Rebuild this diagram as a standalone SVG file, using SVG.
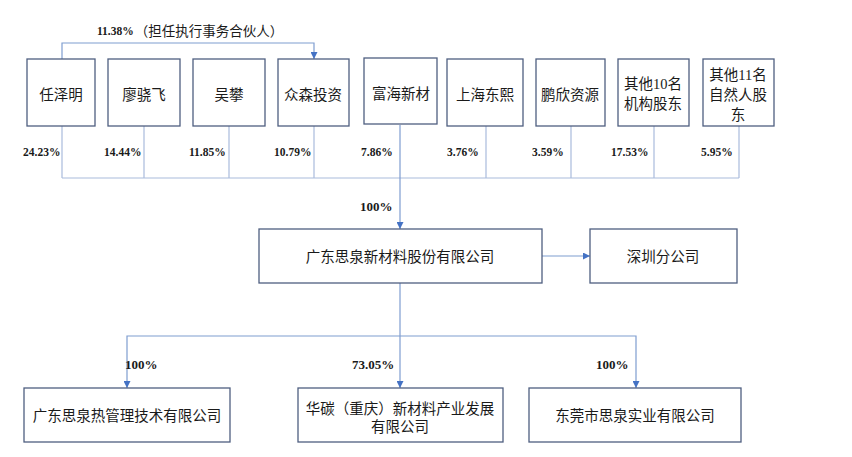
<svg xmlns="http://www.w3.org/2000/svg" width="852" height="457" viewBox="0 0 852 457">
<defs>
<marker id="arr" viewBox="0 0 8 8" refX="8" refY="4" markerWidth="7" markerHeight="7" markerUnits="userSpaceOnUse" orient="auto">
<path d="M0,0 L8,4 L0,8 Z" fill="#4472c4"/>
</marker>
</defs>
<style>
.box{fill:#fff;stroke:#4f5f80;stroke-width:1.3}
.t{font-family:"Liberation Serif","Noto Sans CJK SC",serif;font-size:14.5px;fill:#1a1a1a;text-anchor:middle;dominant-baseline:central}
.p{font-family:"Liberation Serif","Noto Sans CJK SC",serif;font-size:11.5px;font-weight:bold;fill:#1a1a1a;dominant-baseline:central}
.q{font-size:13px}
.ln{fill:none;stroke:#a9bbdc;stroke-width:1.2}
.la{fill:none;stroke:#7f9dd0;stroke-width:1.2}
</style>
<rect width="852" height="457" fill="#fff"/>
<g id="connectors">
<polyline class="la" points="62,59 62,43 314,43 314,59" marker-end="url(#arr)"/>
<line class="ln" x1="62" y1="126" x2="62" y2="178"/>
<line class="ln" x1="144" y1="126" x2="144" y2="178"/>
<line class="ln" x1="229" y1="126" x2="229" y2="178"/>
<line class="ln" x1="314" y1="126" x2="314" y2="178"/>
<line class="ln" x1="486" y1="126" x2="486" y2="178"/>
<line class="ln" x1="571" y1="126" x2="571" y2="178"/>
<line class="ln" x1="654" y1="126" x2="654" y2="178"/>
<line class="ln" x1="739" y1="126" x2="739" y2="178"/>
<line class="ln" x1="62" y1="178" x2="739" y2="178"/>
<line class="la" x1="400" y1="125" x2="400" y2="229" marker-end="url(#arr)"/>
<line class="la" x1="542" y1="256" x2="590" y2="256" marker-end="url(#arr)"/>
<line class="la" x1="400" y1="283" x2="400" y2="388" marker-end="url(#arr)"/>
<polyline class="la" points="400,336 127,336 127,388" marker-end="url(#arr)"/>
<polyline class="la" points="400,336 636,336 636,388" marker-end="url(#arr)"/>
</g>
<g id="labels">
<text class="p" x="97" y="31"><tspan>11.38%</tspan><tspan font-weight="normal" font-size="13.5px" dx="1">（担任执行事务合伙人）</tspan></text>
<text class="p" x="23" y="152">24.23%</text>
<text class="p" x="104" y="152">14.44%</text>
<text class="p" x="189" y="152">11.85%</text>
<text class="p" x="274" y="152">10.79%</text>
<text class="p" x="361" y="152">7.86%</text>
<text class="p" x="447" y="152">3.76%</text>
<text class="p" x="532" y="152">3.59%</text>
<text class="p" x="611" y="152">17.53%</text>
<text class="p" x="701" y="152">5.95%</text>
<text class="p q" x="360" y="206">100%</text>
<text class="p q" x="125" y="364">100%</text>
<text class="p q" x="352" y="364">73.05%</text>
<text class="p q" x="596" y="364">100%</text>
</g>
<g id="n1"><rect class="box" x="27" y="59" width="68" height="67"/><text class="t" x="61" y="95">任泽明</text></g>
<g id="n2"><rect class="box" x="108" y="59" width="72" height="67"/><text class="t" x="144" y="95">廖骁飞</text></g>
<g id="n3"><rect class="box" x="193" y="59" width="72" height="67"/><text class="t" x="229" y="95">吴攀</text></g>
<g id="n4"><rect class="box" x="278" y="59" width="71" height="67"/><text class="t" x="313" y="95">众森投资</text></g>
<g id="n5"><rect class="box" x="364" y="58" width="73" height="66"/><text class="t" x="401" y="94">富海新材</text></g>
<g id="n6"><rect class="box" x="447" y="59" width="76" height="67"/><text class="t" x="485" y="95">上海东熙</text></g>
<g id="n7"><rect class="box" x="536" y="59" width="69" height="67"/><text class="t" x="570" y="95">鹏欣资源</text></g>
<g id="n8"><rect class="box" x="618" y="59" width="71" height="67"/><text class="t" x="653" y="84">其他10名</text><text class="t" x="653" y="104">机构股东</text></g>
<g id="n9"><rect class="box" x="703" y="59" width="71" height="67"/><text class="t" x="738" y="75">其他11名</text><text class="t" x="738" y="95">自然人股</text><text class="t" x="738" y="115">东</text></g>
<g id="main"><rect class="box" x="259" y="229" width="283" height="54"/><text class="t" x="400" y="257">广东思泉新材料股份有限公司</text></g>
<g id="sz"><rect class="box" x="590" y="229" width="147" height="54"/><text class="t" x="663" y="257">深圳分公司</text></g>
<g id="b1"><rect class="box" x="24" y="388" width="206" height="54"/><text class="t" x="127" y="416">广东思泉热管理技术有限公司</text></g>
<g id="b2"><rect class="box" x="298" y="388" width="205" height="54"/><text class="t" x="400" y="409">华碳（重庆）新材料产业发展</text><text class="t" x="400" y="427">有限公司</text></g>
<g id="b3"><rect class="box" x="529" y="388" width="212" height="54"/><text class="t" x="635" y="416">东莞市思泉实业有限公司</text></g>
</svg>
